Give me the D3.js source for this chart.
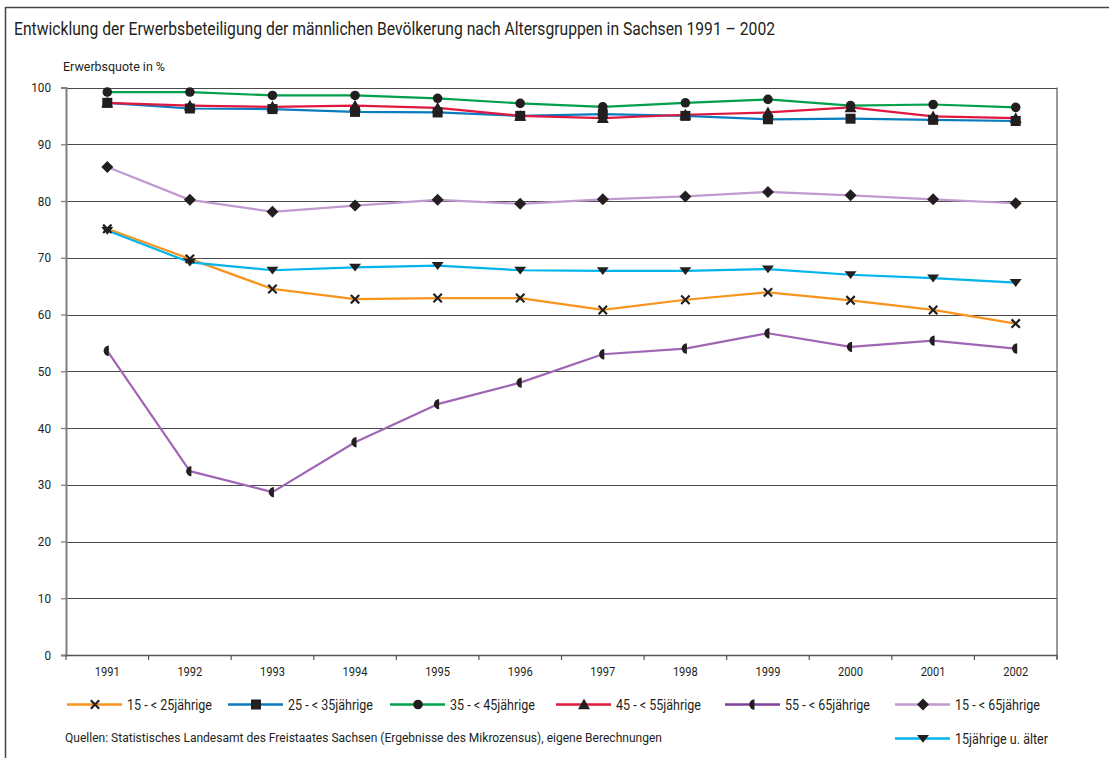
<!DOCTYPE html>
<html><head><meta charset="utf-8">
<script src="https://cdn.jsdelivr.net/npm/d3@7"></script>
<style>
body{margin:0;background:#fff;}
text{font-family:Roboto,"Liberation Sans",sans-serif;fill:#231f20;}
</style></head>
<body>
<svg id="chart" width="1109" height="758"></svg>
<script>
const years = ["1991","1992","1993","1994","1995","1996","1997","1998","1999","2000","2001","2002"];
const yTicks = [0,10,20,30,40,50,60,70,80,90,100];
const seriesNames = ["15 - < 25jährige","25 - < 35jährige","35 - < 45jährige","45 - < 55jährige","55 - < 65jährige","15 - < 65jährige","15jährige u. älter"];
const s15_25 = [75.1,69.8,64.5,62.7,62.9,62.9,60.8,62.6,63.9,62.5,60.8,58.4];
const s25_35 = [97.3,96.3,96.2,95.7,95.6,95.0,95.3,95.0,94.4,94.5,94.3,94.1];
const s35_45 = [99.2,99.2,98.6,98.6,98.1,97.2,96.6,97.3,97.9,96.8,97.0,96.5];
const s45_55 = [97.3,96.8,96.6,96.8,96.4,95.0,94.6,95.2,95.6,96.5,94.9,94.6];
const s55_65 = [53.6,32.4,28.7,37.5,44.2,48.0,53.0,54.0,56.7,54.3,55.4,54.0];
const s15_65 = [86.0,80.2,78.1,79.2,80.2,79.5,80.3,80.8,81.6,81.0,80.3,79.6];
const s15plus = [74.8,69.2,67.8,68.3,68.6,67.8,67.7,67.7,68.0,67.0,66.4,65.6];
const titleText = "Entwicklung der Erwerbsbeteiligung der männlichen Bevölkerung nach Altersgruppen in Sachsen 1991 – 2002";
const yLabel = "Erwerbsquote in %";
const sourceText = "Quellen: Statistisches Landesamt des Freistaates Sachsen (Ergebnisse des Mikrozensus), eigene Berechnungen";

const series = [
  {name:seriesNames[0], values:s15_25, color:"#f7941d", legendColor:"#f7941d", marker:"x"},
  {name:seriesNames[1], values:s25_35, color:"#0a7bbf", legendColor:"#0a7bbf", marker:"square"},
  {name:seriesNames[2], values:s35_45, color:"#00a04b", legendColor:"#00a04b", marker:"circle"},
  {name:seriesNames[3], values:s45_55, color:"#e0173f", legendColor:"#e0173f", marker:"triUp"},
  {name:seriesNames[4], values:s55_65, color:"#a066b4", legendColor:"#7f3f98", marker:"half"},
  {name:seriesNames[5], values:s15_65, color:"#c09ad0", legendColor:"#c09ad0", marker:"diamond"},
  {name:seriesNames[6], values:s15plus, color:"#00b4ec", legendColor:"#00b4ec", marker:"triDown"}
];

const svg = d3.select("#chart");
const L = 66, R = 1057, T = 87.5, B = 655;
const x = d3.scaleBand().domain(years).range([L, R]).padding(0);
const y = d3.scaleLinear().domain([0,100]).range([B, T]);

function fitWidth(sel, width){
  sel.attr("textLength", width).attr("lengthAdjust","spacingAndGlyphs");
}

// outer frame
svg.append("line").attr("x1",5.5).attr("x2",1109).attr("y1",7.5).attr("y2",7.5).attr("stroke","#444").attr("stroke-width",1.5);
svg.append("line").attr("x1",5.5).attr("x2",5.5).attr("y1",7).attr("y2",758).attr("stroke","#444").attr("stroke-width",1.5);

fitWidth(svg.append("text").attr("x",14).attr("y",35).attr("font-size",17.5).text(titleText), 761);
fitWidth(svg.append("text").attr("x",63).attr("y",71).attr("font-size",12).text(yLabel), 102);

// grid lines
svg.append("g").selectAll("line").data(yTicks.filter(d=>d>0)).join("line")
  .attr("x1",L).attr("x2",R).attr("y1",d=>Math.round(y(d))+0.5).attr("y2",d=>Math.round(y(d))+0.5)
  .attr("stroke","#4a4a4a").attr("stroke-width",1);
// right border
svg.append("line").attr("x1",R).attr("x2",R).attr("y1",y(100)).attr("y2",B+4).attr("stroke","#555").attr("stroke-width",1.2);

// y axis
const yAxis = d3.axisLeft(y).tickValues(yTicks).tickSize(5).tickPadding(10);
const gy = svg.append("g").attr("transform",`translate(${L},0)`).call(yAxis);
gy.select(".domain").attr("stroke","#808080").attr("stroke-width",2);
gy.selectAll(".tick line").attr("stroke","#808080").attr("stroke-width",1.3);
gy.selectAll(".tick text").attr("font-size",13).attr("font-family","Roboto, sans-serif").attr("fill","#231f20")
  .each(function(d){ fitWidth(d3.select(this), String(d).length*6.6); });

// x axis
const gx = svg.append("g").attr("transform",`translate(0,${B})`).call(d3.axisBottom(x).tickSize(0).tickPadding(12));
gx.select(".domain").attr("stroke","#555").attr("stroke-width",1.5);
gx.selectAll(".tick text").attr("font-size",13).attr("font-family","Roboto, sans-serif").attr("fill","#231f20").call(fitWidth,25);
// ticks at band boundaries
const bounds = years.map(d=>x(d)).concat([x(years[years.length-1])+x.bandwidth()]);
svg.append("g").selectAll("line").data(bounds).join("line")
  .attr("x1",d=>d).attr("x2",d=>d).attr("y1",B).attr("y2",B+5).attr("stroke","#555").attr("stroke-width",1.2);

function drawMarker(g, type, cx, cy){
  const c = "#231f20";
  if(type==="x"){
    const s=4.2;
    g.append("path").attr("d",`M${cx-s},${cy-s}L${cx+s},${cy+s}M${cx-s},${cy+s}L${cx+s},${cy-s}`).attr("stroke",c).attr("stroke-width",2.2).attr("fill","none");
  } else if(type==="square"){
    const s=5;
    g.append("rect").attr("x",cx-s).attr("y",cy-s).attr("width",2*s).attr("height",2*s).attr("fill",c);
  } else if(type==="circle"){
    g.append("circle").attr("cx",cx).attr("cy",cy).attr("r",4.8).attr("fill",c);
  } else if(type==="triUp"){
    const s=6;
    g.append("path").attr("d",`M${cx},${cy-s}L${cx+s},${cy+s*0.8}L${cx-s},${cy+s*0.8}Z`).attr("fill",c);
  } else if(type==="triDown"){
    const s=6;
    g.append("path").attr("d",`M${cx-s},${cy-s*0.6}L${cx+s},${cy-s*0.6}L${cx},${cy+s*0.7}Z`).attr("fill",c);
  } else if(type==="diamond"){
    const s=6;
    g.append("path").attr("d",`M${cx},${cy-s}L${cx+s},${cy}L${cx},${cy+s}L${cx-s},${cy}Z`).attr("fill",c);
  } else if(type==="half"){
    const r=5.2, ex=cx+1.5;
    g.append("path").attr("d",`M${ex},${cy-r}A${r},${r} 0 0 0 ${ex},${cy+r}Z`).attr("fill",c);
  }
}

const line = d3.line().x((d,i)=>x(years[i])+x.bandwidth()/2).y(d=>y(d));
const drawOrder = [4,0,6,5,1,3,2];
drawOrder.forEach(si=>{
  const s = series[si];
  svg.append("path").datum(s.values).attr("d",line).attr("fill","none").attr("stroke",s.color).attr("stroke-width",2.2).attr("stroke-linejoin","round");
});
drawOrder.forEach(si=>{
  const s = series[si];
  const g = svg.append("g");
  s.values.forEach((v,i)=>drawMarker(g, s.marker, x(years[i])+x.bandwidth()/2, y(v)));
});

// legend
const legendPos = [
  {x:67,y:704.5},{x:228,y:704.5},{x:390,y:704.5},{x:556,y:704.5},{x:725,y:704.5},{x:895,y:704.5},{x:895,y:738.5}
];
series.forEach((s,i)=>{
  const p = legendPos[i];
  const g = svg.append("g");
  g.append("line").attr("x1",p.x).attr("x2",p.x+55).attr("y1",p.y).attr("y2",p.y).attr("stroke",s.legendColor).attr("stroke-width",2.5);
  drawMarker(g, s.marker, p.x+28, p.y);
  const t = g.append("text").attr("x",p.x+60).attr("y",p.y+5).attr("font-size",14).text(s.name);
  fitWidth(t, i===6 ? 93 : 85);
});
fitWidth(svg.append("text").attr("x",65).attr("y",742).attr("font-size",12.5).text(sourceText), 597);
</script>
</body></html>
